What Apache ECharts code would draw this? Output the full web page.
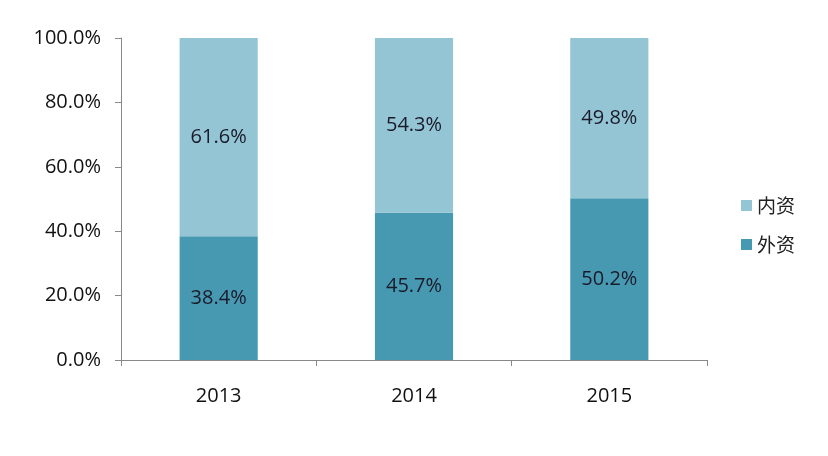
<!DOCTYPE html>
<html><head><meta charset="utf-8">
<script src="https://cdn.jsdelivr.net/npm/echarts@6/dist/echarts.min.js"></script>
<style>html,body{margin:0;padding:0;background:#fff}#c{width:828px;height:456px}</style>
</head><body><div id="c"></div>
<script>
const categories = ['2013', '2014', '2015'];
const foreign = [38.4, 45.7, 50.2];   // 外资
const domestic = [61.6, 54.3, 49.8];  // 内资
const yTicks = [0, 20, 40, 60, 80, 100];

const font = '"Open Sans", "Noto Sans CJK SC", sans-serif';
const chart = echarts.init(document.getElementById('c'));
chart.setOption({
  animation: false,
  textStyle: { fontFamily: font },
  grid: { left: 121, right: 121, top: 38, bottom: 96 },
  legend: {
    orient: 'vertical', left: 736, top: 191, itemGap: 20,
    itemWidth: 11, itemHeight: 11, icon: 'rect',
    data: ['内资', '外资'],
    textStyle: { fontSize: 19, color: '#222', fontFamily: '"Noto Sans CJK SC", sans-serif' }
  },
  xAxis: {
    type: 'category', data: categories,
    axisLine: { lineStyle: { color: '#888' } },
    axisTick: { show: true, length: 6, lineStyle: { color: '#888' } },
    axisLabel: { fontSize: 20, color: '#111', margin: 26 }
  },
  yAxis: {
    type: 'value', min: yTicks[0], max: yTicks[yTicks.length - 1], interval: 20,
    axisLine: { show: true, lineStyle: { color: '#888' } },
    axisTick: { show: true, length: 6, lineStyle: { color: '#888' } },
    splitLine: { show: false },
    axisLabel: { fontSize: 20, color: '#111', margin: 20, formatter: v => v.toFixed(1) + '%' }
  },
  series: [
    {
      name: '外资', type: 'bar', stack: 's', data: foreign, barWidth: '40%',
      itemStyle: { color: '#4799b2' },
      label: { show: true, position: 'inside', fontSize: 20, color: '#1a1a2a', formatter: p => p.value.toFixed(1) + '%' }
    },
    {
      name: '内资', type: 'bar', stack: 's', data: domestic, barWidth: '40%',
      itemStyle: { color: '#93c5d4' },
      label: { show: true, position: 'inside', fontSize: 20, color: '#1a1a2a', formatter: p => p.value.toFixed(1) + '%' }
    }
  ]
});
</script></body></html>
